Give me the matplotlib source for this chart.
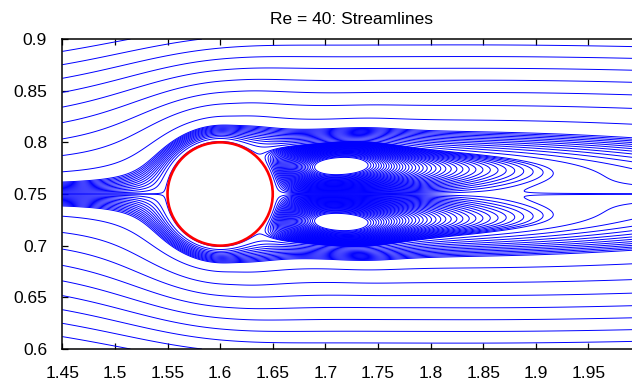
#!/usr/bin/env python3
"""
Streamlines of the steady wake behind a circular cylinder at Re = 40
Stream function contours: cylinder + recirculation bubble + wake deficit
"""

import math
import numpy as np
import matplotlib
matplotlib.use('Agg')
import matplotlib.pyplot as plt

plt.rcParams['font.family'] = ['Liberation Sans', 'DejaVu Sans']

# Cylinder
cyl_center = (1.6, 0.75)
cyl_radius = 0.05

# Near wake: deficit strength K(x)
ramp_len = 0.03          # how fast the wake switches on behind the body
k_tail = 0.828           # far-wake centreline deficit
k_bump = 2.31            # extra strength inside the recirculation bubble
k_decay = 0.104          # decay length of the bubble strength

# Near wake: half width c(x), logistic growth between two values
width_lo, width_hi = 0.030, 0.062
width_mid, width_len = 1.738, 0.046

# Outer flow displacement: (strength, x position, length) of two smooth steps
disp_steps = [(0.078, 1.64, 0.02), (-0.03, 2.02, 0.12)]
blend_width = 0.06

# Contour levels of the stream function
center_levels = [0.00004]
band_levels = np.arange(1, 14) * 0.0007
outer_levels = 0.0167 + np.arange(12) * 0.0117
eddy_levels = -np.linspace(0.00012, 0.0063, 38)

x_ticks = [1.45, 1.5, 1.55, 1.6, 1.65, 1.7, 1.75, 1.8, 1.85, 1.9, 1.95]
y_ticks = [0.6, 0.65, 0.7, 0.75, 0.8, 0.85, 0.9]

erf = np.vectorize(math.erf)


def outer_displacement(x, s):
    """Displacement seen by the outer flow, smeared out with distance"""
    d = np.zeros_like(x)
    for strength, x0, length in disp_steps:
        d += strength * (0.5 + np.arctan((x - x0) / (length + s)) / np.pi)
    return d


def stream_function(x, y):
    """Stream function of the cylinder wake model (odd in y - yc)"""
    xc, yc = cyl_center
    t = x - xc
    s = y - yc
    a = np.abs(s)
    r2 = t**2 + s**2

    # blockage of the body, squared to mimic the slow viscous layer
    body = (1.0 - cyl_radius**2 / r2)**2

    tp = np.clip(t, 0, None)
    ramp = tp**3 / (tp**3 + ramp_len**3)
    K = ramp * (k_tail + k_bump * np.exp(-tp / k_decay))
    c = width_lo + (width_hi - width_lo) * 0.5 * (1 + np.tanh((x - width_mid) / width_len))

    # integral of a Gaussian velocity deficit across the wake
    d_loc = K * c * np.sqrt(np.pi) / 2
    d_out = outer_displacement(x, a)
    blend = erf(a / blend_width)**2
    g = a - d_loc * erf(a / c) - (d_out - d_loc) * blend

    psi = np.sign(s) * g * body
    return np.ma.masked_where(r2 < cyl_radius**2, psi)


def main():
    fig = plt.figure(figsize=(6.32, 3.86), dpi=100, facecolor='white')
    # plot box runs past the right edge of the image
    ax = fig.add_axes([62.3 / 632, 37 / 386, (641 - 62.3) / 632, 310 / 386])

    levels = np.sort(np.concatenate([eddy_levels, center_levels,
                                     band_levels, outer_levels]))

    xs = np.linspace(1.45, 2.0, 1400)
    # upper half, and the mirrored lower half with the sign flipped
    for y0, y1, sign in [(0.75, 0.9, 1.0), (0.6, 0.75, -1.0)]:
        ys = np.linspace(y0, y1, 500)
        X, Y = np.meshgrid(xs, ys)
        psi = sign * stream_function(X, Y)
        ax.contour(X, Y, psi, levels=levels, colors='#0000ff',
                   linewidths=0.7, linestyles='solid')

    circle = plt.Circle(cyl_center, cyl_radius, facecolor='white',
                        edgecolor='#ff0000', linewidth=1.9, zorder=5)
    ax.add_patch(circle)

    ax.set_xlim(1.45, 2.0)
    ax.set_ylim(0.6, 0.9)
    ax.set_xticks(x_ticks + [2.0])
    ax.set_xticklabels(['%g' % v for v in x_ticks] + [''])
    ax.set_yticks(y_ticks)
    ax.set_yticklabels(['%g' % v for v in y_ticks])
    ax.tick_params(direction='in', length=4, width=0.9, top=True, right=True,
                   labelsize=12.5)
    ax.tick_params(axis='x', pad=12.5)
    ax.tick_params(axis='y', pad=11)
    for spine in ax.spines.values():
        spine.set_linewidth(1.1)

    ax.set_title('Re = 40: Streamlines', fontsize=12.5, pad=11)

    fig.savefig('out.png', dpi=100, facecolor='white')
    plt.close(fig)


if __name__ == '__main__':
    main()
